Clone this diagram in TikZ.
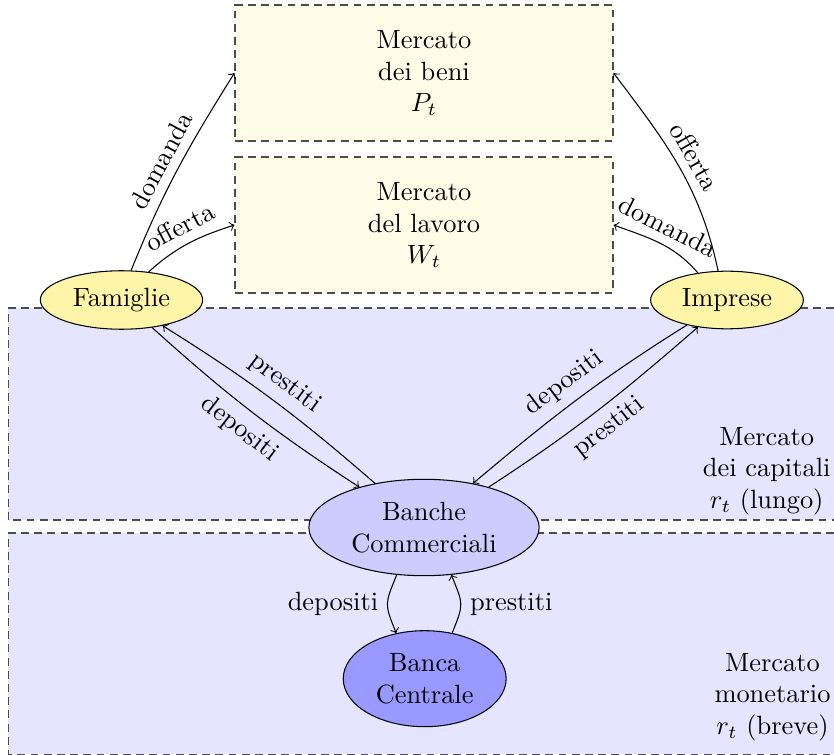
\documentclass[tikz,border=0pt]{standalone}
\usetikzlibrary{shapes.geometric}
\definecolor{boxfill}{RGB}{255,252,232}
\definecolor{agentfill}{RGB}{255,245,168}
\begin{document}
\begin{tikzpicture}[x=0.3788pt,y=0.3788pt,
  market/.style={draw=black!70, densely dashed, fill=boxfill, minimum width=143.2pt, minimum height=51.5pt, align=center, inner sep=0pt},
  region/.style={draw=black!70, densely dashed},
  agent/.style={ellipse, draw, fill=agentfill},
  bank/.style={ellipse, draw, align=center},
  flow/.style={->},
  lab/.style={midway, sloped},
  regionlabel/.style={anchor=east, align=center, inner sep=0pt}]
\useasboundingbox (0,0) rectangle (834,754);
% regions
\fill[blue!10] (8.3,0) rectangle (834,221);
\fill[blue!10] (8.3,234) rectangle (834,446);
\draw[region] (834,446) -- (8.3,446) -- (8.3,234) -- (834,234);
\draw[region] (834,221) -- (8.3,221) -- (8.3,-0.2) -- (834,-0.2);
% markets
\node[market] (beni) at (424,681) {Mercato\\dei beni\\$P_t$};
\node[market] (lavoro) at (424,529) {Mercato\\del lavoro\\$W_t$};
% agents
\node[agent] (fam) at (121.5,454) {Famiglie};
\node[agent] (imp) at (727,454) {Imprese};
\node[bank, fill=blue!20] (bc) at (424,226.5) {Banche\\Commerciali};
\node[bank, fill=blue!40] (cb) at (424.7,75.3) {Banca\\Centrale};
% region labels
\node[regionlabel] (capl) at (831,283) {Mercato\\dei capitali\\$r_t$ (lungo)};
\node[regionlabel] (monl) at (831,57) {Mercato\\monetario\\$r_t$ (breve)};
% goods and labour flows
\draw[flow] (fam.72) to[out=68, in=238] node[lab, above] {domanda} (beni.west);
\draw[flow] (fam.46) to[out=42, in=198] node[lab, above] {offerta} (lavoro.west);
\draw[flow] (imp.107) to[out=102, in=307] node[lab, above] {offerta} (beni.east);
\draw[flow] (imp.137) to[out=131, in=340] node[lab, above] {domanda} (lavoro.east);
% capital market flows
\draw[flow] (bc.138) to[out=139, in=-32] node[lab, above] {prestiti} (fam.-32);
\draw[flow] (fam.-42) to[out=-42, in=147] node[lab, below] {depositi} (bc.148);
\draw[flow] (imp.212) to[out=212, in=40] node[lab, above] {depositi} (bc.42);
\draw[flow] (bc.32) to[out=33, in=221] node[lab, below] {prestiti} (imp.223);
% money market flows
\draw[flow] (bc.240) .. controls +(248:32) and +(112:32) .. node[left] {depositi} (cb.122);
\draw[flow] (cb.59) .. controls +(68:32) and +(-68:32) .. node[right] {prestiti} (bc.300);
\end{tikzpicture}
\end{document}
